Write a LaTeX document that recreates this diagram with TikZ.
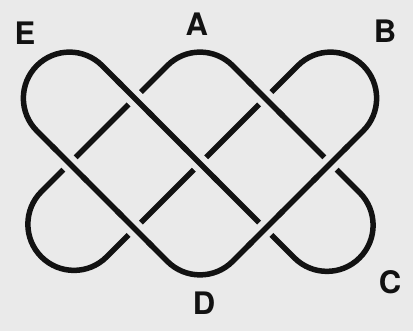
\documentclass[tikz,border=0pt]{standalone}
\usepackage{fontspec}
\setmainfont{TeX Gyre Heros}
\definecolor{bgcol}{RGB}{234,234,234}
\definecolor{ink}{RGB}{18,18,18}
\begin{document}
\begin{tikzpicture}[x=1pt,y=1pt,
  knotline/.style={draw=ink, line width=5.5pt, line join=round},
  gapbg/.style={draw=bgcol, line width=17pt},
  overline/.style={draw=ink, line width=5.5pt},
  lbl/.style={inner sep=0pt, font=\fontsize{31}{31}\selectfont\bfseries, text=ink}]
\fill[bgcol] (0,0) rectangle (413,331);
\useasboundingbox (0,0) rectangle (413,331);
\begin{scope}[shift={(200pt,167.5pt)}, x=65.25pt, y=65.25pt]
  \def\r{46.14pt}
  % the knot as one closed path
  \draw[knotline] (-1.5,1.5) -- (1.446,-1.446)
     arc[start angle=225, end angle=405, radius=\r]
     -- (0.5,1.5) arc[start angle=45, end angle=135, radius=\r]
     -- (-2.431,-0.431) arc[start angle=135, end angle=315, radius=\r]
     -- (1.5,1.5) arc[start angle=135, end angle=-45, radius=\r]
     -- (0.5,-1.5) arc[start angle=-45, end angle=-135, radius=\r]
     -- (-2.5,0.5) arc[start angle=225, end angle=45, radius=\r]
     -- cycle;
  % over strands at the crossings
  \foreach \cx/\cy/\dx/\dy in {-1/1/1/-1, -2/0/1/-1, 0/0/1/-1, -1/-1/1/-1, 1/1/1/-1, 1/-1/1/1, 2/0/1/1} {
    \draw[gapbg] ({\cx-0.2*(\dx)},{\cy-0.2*(\dy)}) -- ({\cx+0.2*(\dx)},{\cy+0.2*(\dy)});
    \draw[overline] ({\cx-0.27*(\dx)},{\cy-0.27*(\dy)}) -- ({\cx+0.27*(\dx)},{\cy+0.27*(\dy)});
  }
\end{scope}
\node[lbl] (E) at (25,298) {E};
\node[lbl] (A) at (196.7,307) {A};
\node[lbl] (B) at (385,299.5) {B};
\node[lbl] (C) at (390,48.5) {C};
\node[lbl] (D) at (204,27.5) {D};
\end{tikzpicture}
\end{document}
